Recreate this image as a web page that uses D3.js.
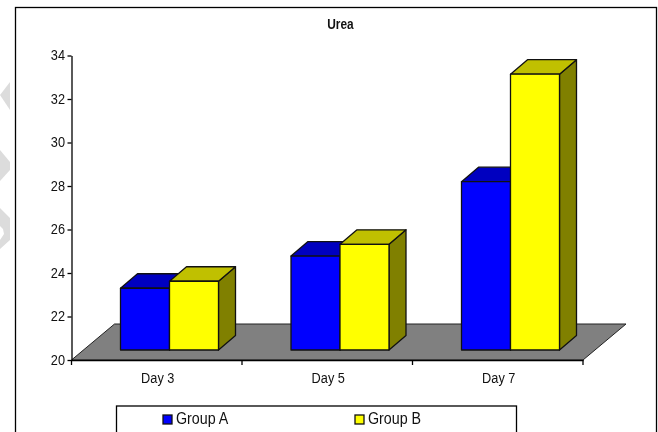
<!DOCTYPE html>
<html>
<head>
<meta charset="utf-8">
<script src="https://cdn.jsdelivr.net/npm/d3@7"></script>
<style>
html, body { margin: 0; padding: 0; background: #fff; }
svg { display: block; filter: blur(0.35px); }
text { font-family: "Liberation Sans", Arial, sans-serif; fill: #111; }
.domain, .tick line { stroke-width: 1.3px; }
</style>
</head>
<body>
<div id="app"></div>
<script>
var days = ['Day 3', 'Day 5', 'Day 7'];
var groups = ['Group A', 'Group B'];
var groupA = [22.84, 24.32, 27.74];
var groupB = [23.16, 24.86, 32.68];
var yTicks = [20, 22, 24, 26, 28, 30, 32, 34];

var width = 658, height = 432;
var left = 71.5, right = 583, top_ = 55.5, bottom = 360;
var floorDx = 43, floorDy = 36;   // depth of the floor
var barDy = 10;                   // bars stand this far up the floor
var depthX = 17, depthY = 14.5;   // depth of each bar
var squeeze = 0.85;               // the picture's text is narrow and tall

var faces = {
  'Group A': { front: '#0000ff', top: '#0000c0', side: '#000080' },
  'Group B': { front: '#ffff00', top: '#c0c000', side: '#808000' }
};

var svg = d3.select('#app').append('svg')
  .attr('width', width)
  .attr('height', height);

function narrow(sel, x) {
  sel.attr('x', x / squeeze).attr('transform', 'scale(' + squeeze + ',1)');
}

// grey marks down the left edge of the page
var pageMarks = [
  [[10, 82], [0, 95], [10, 110]],
  [[0, 150], [10, 162], [10, 170], [0, 181]],
  [[0, 208], [10, 218], [10, 240], [0, 249], [0, 240], [4, 234], [3, 229], [0, 226]]
];
svg.selectAll('.mark').data(pageMarks).enter().append('polygon')
  .attr('class', 'mark')
  .attr('points', function(d) { return d.join(' '); })
  .style('fill', '#dcdcdc');

// chart frame
svg.append('rect')
  .attr('x', 15.5).attr('y', 7.5)
  .attr('width', 641).attr('height', 440)
  .style('fill', '#fff')
  .style('stroke', '#000')
  .style('stroke-width', 1.3);

var x = d3.scaleBand().domain(days).range([left, right]);
var xGroup = d3.scaleBand().domain(groups).range([49, 147]);
var y = d3.scaleLinear().domain([20, 34]).range([bottom, top_]);

svg.append('text')
  .attr('y', 29)
  .attr('text-anchor', 'middle')
  .style('font-size', '14px')
  .style('font-weight', 'bold')
  .text('Urea')
  .call(narrow, 340.5);

// floor
svg.append('polygon')
  .attr('points', [
    [left, bottom], [right, bottom],
    [right + floorDx, bottom - floorDy], [left + floorDx, bottom - floorDy]
  ].join(' '))
  .style('fill', '#808080')
  .style('stroke', '#222');

// axes
var yAxis = d3.axisLeft(y).tickValues(yTicks).tickSize(4).tickSizeOuter(0);
var gy = svg.append('g').attr('transform', 'translate(' + left + ',0)').call(yAxis);
gy.selectAll('text')
  .style('font-size', '15px')
  .attr('dy', '4px')
  .call(narrow, -6.5);

var xAxis = d3.axisBottom(x).tickSize(0);
var gx = svg.append('g').attr('transform', 'translate(0,' + bottom + ')').call(xAxis);
gx.selectAll('text')
  .style('font-size', '15px')
  .attr('y', 22.7)
  .attr('dy', 0)
  .call(narrow, 1);
gx.selectAll('.bound').data(x.domain().map(function(d) { return x(d); }).concat(right))
  .enter().append('line')
  .attr('class', 'bound')
  .attr('x1', function(d) { return d; }).attr('x2', function(d) { return d; })
  .attr('y1', 0).attr('y2', 5)
  .style('stroke', '#000')
  .style('stroke-width', 1.3);

// bars, drawn left to right so B overlaps A's top
var bars = [];
days.forEach(function(day, i) {
  bars.push({ day: day, group: 'Group A', value: groupA[i] });
  bars.push({ day: day, group: 'Group B', value: groupB[i] });
});

var bar = svg.selectAll('.bar').data(bars).enter().append('g')
  .attr('class', 'bar')
  .attr('transform', function(d) { return 'translate(' + (x(d.day) + xGroup(d.group)) + ',' + (-barDy) + ')'; });

function box(sel, cls, pts, face) {
  sel.append('polygon')
    .attr('class', cls)
    .attr('points', pts)
    .style('fill', function(d) { return faces[d.group][face]; })
    .style('stroke', '#111')
    .style('stroke-width', 1.3)
    .style('stroke-linejoin', 'round');
}

box(bar, 'side', function(d) {
  var w = xGroup.bandwidth(), t = y(d.value);
  return [[w, t], [w + depthX, t - depthY], [w + depthX, bottom - depthY], [w, bottom]].join(' ');
}, 'side');
box(bar, 'top', function(d) {
  var w = xGroup.bandwidth(), t = y(d.value);
  return [[0, t], [depthX, t - depthY], [w + depthX, t - depthY], [w, t]].join(' ');
}, 'top');
box(bar, 'front', function(d) {
  var w = xGroup.bandwidth(), t = y(d.value);
  return [[0, t], [w, t], [w, bottom], [0, bottom]].join(' ');
}, 'front');

// legend
svg.append('rect')
  .attr('x', 116.5).attr('y', 406)
  .attr('width', 400).attr('height', 40)
  .style('fill', '#fff')
  .style('stroke', '#000')
  .style('stroke-width', 1.3);

var legendX = d3.scalePoint().domain(groups).range([163, 355]);
var legend = svg.selectAll('.legend').data(groups).enter().append('g')
  .attr('class', 'legend')
  .attr('transform', function(d) { return 'translate(' + legendX(d) + ',415)'; });
legend.append('rect')
  .attr('width', 9).attr('height', 9)
  .style('fill', function(d) { return faces[d].front; })
  .style('stroke', '#111')
  .style('stroke-width', 1.3);
legend.append('text')
  .attr('y', 9)
  .style('font-size', '16.8px')
  .text(function(d) { return d; })
  .call(narrow, 13);
</script>
</body>
</html>
